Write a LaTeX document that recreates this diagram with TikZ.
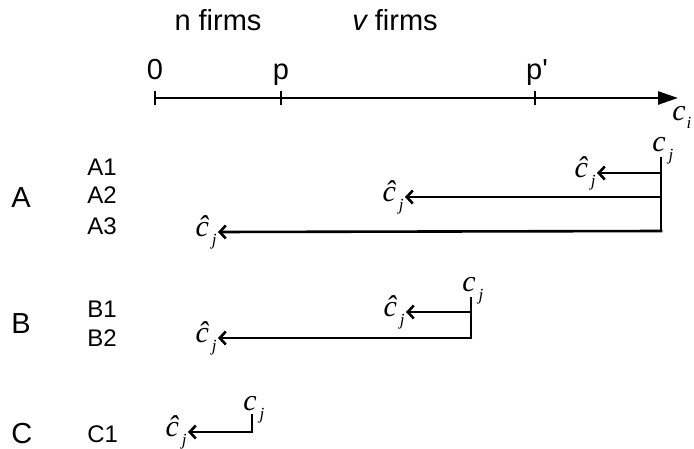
\documentclass[tikz,border=0pt]{standalone}
\usepackage{fontspec}
\setmainfont{Liberation Sans}
\newfontfamily\rawsans{Liberation Sans}
\newfontfamily\serfam{Liberation Serif}
\usetikzlibrary{arrows.meta}
\newcommand\cvar[1]{{\serfam\itshape\fontsize{30}{30}\selectfont #1}\hspace{3pt}\raisebox{-9pt}{\serfam\itshape\fontsize{17}{17}\selectfont j}}
\newcommand\cvari{{\serfam\itshape\fontsize{30}{30}\selectfont c}\hspace{1pt}\raisebox{-8pt}{\serfam\itshape\fontsize{17}{17}\selectfont i}}
\begin{document}
\begin{tikzpicture}[x=1pt,y=-1pt,
  line width=2.6pt,
  toplab/.style={font=\fontsize{29}{29}\selectfont, anchor=base, inner sep=0pt},
  biglab/.style={font=\fontsize{29}{29}\selectfont, anchor=base west, inner sep=0pt},
  sublab/.style={font=\fontsize{24}{24}\selectfont, anchor=base west, inner sep=0pt},
  cjlab/.style={inner sep=0pt, anchor=base west},
  hatlab/.style={inner sep=0pt, anchor=east},
  barb/.style={-{Straight Barb[length=6pt,width=13pt,line width=2.6pt]}, line width=2.6pt},
  axisarr/.style={-{Triangle[length=20pt,width=13pt]}, line width=2.6pt},
  tick/.style={line width=2.6pt}]
\useasboundingbox (0,0) rectangle (694,449);

% header
\node[toplab] (nf) at (218,31) {n firms};
\node[toplab] (vf) at (395,31) {{\itshape v} firms};

% axis
\coordinate (o) at (155,98);
\coordinate (tp) at (281,98);
\coordinate (tpp) at (535,98);
\coordinate (axend) at (678,98);
\draw[axisarr] (o) -- (axend);
\foreach \t in {o,tp,tpp} \draw[tick] ([yshift=-7pt]\t) -- ([yshift=7pt]\t);
\node[toplab] (l0) at (155,80) {0};
\node[toplab] (lp) at (281,80) {p};
\node[toplab] (lpp) at (537,80) {{\rawsans p'}};
\node[inner sep=0pt, anchor=base west] (ci) at (671,121) {\cvari};

% section A
\node[biglab] (A) at (10,208) {A};
\node[sublab] (A1) at (86,176) {A1};
\node[sublab] (A2) at (86,204) {A2};
\node[sublab] (A3) at (86,235) {A3};
\node[cjlab] (cjA) at (651,152) {\cvar{c}};
\coordinate (vA) at (661,157);
\coordinate (a1) at (661,173);
\coordinate (a2) at (661,197);
\coordinate (a3) at (661,231);
\node[hatlab] (hA1) at (597,173) {\cvar{\^c}};
\node[hatlab] (hA2) at (405,197) {\cvar{\^c}};
\node[hatlab] (hA3) at (218,232) {\cvar{\^c}};
\draw (vA) -- ([yshift=1.3pt]a3);
\draw[barb] (a1) -- (hA1.east);
\draw[barb] (a2) -- (hA2.east);
\draw[barb] ([xshift=1.3pt]a3) -- (hA3.east);

% section B
\node[biglab] (B) at (10,334) {B};
\node[sublab] (B1) at (86,318) {B1};
\node[sublab] (B2) at (86,346) {B2};
\node[cjlab] (cjB) at (461,292) {\cvar{c}};
\coordinate (vB) at (471,297);
\coordinate (b1) at (471,312);
\coordinate (b2) at (471,338);
\node[hatlab] (hB1) at (406,312) {\cvar{\^c}};
\node[hatlab] (hB2) at (218,338) {\cvar{\^c}};
\draw (vB) -- ([yshift=1.3pt]b2);
\draw[barb] (b1) -- (hB1.east);
\draw[barb] ([xshift=1.3pt]b2) -- (hB2.east);

% section C
\node[biglab] (C) at (10,443) {C};
\node[sublab] (C1) at (86,442) {C1};
\node[cjlab] (cjC) at (242,410) {\cvar{c}};
\coordinate (vC) at (252,414);
\coordinate (c1) at (252,432);
\node[hatlab] (hC1) at (188,432) {\cvar{\^c}};
\draw (vC) -- ([yshift=1.3pt]c1);
\draw[barb] ([xshift=1.3pt]c1) -- (hC1.east);
\end{tikzpicture}
\end{document}
